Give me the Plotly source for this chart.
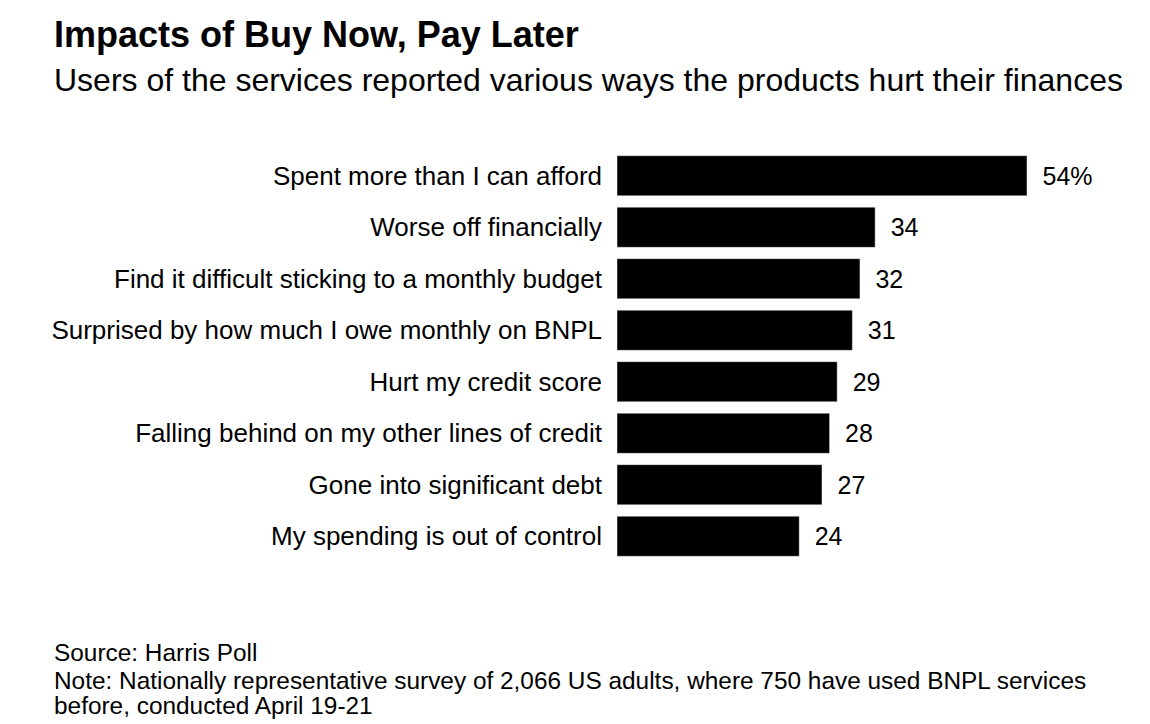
import plotly.graph_objects as go

categories = [
    "Spent more than I can afford",
    "Worse off financially",
    "Find it difficult sticking to a monthly budget",
    "Surprised by how much I owe monthly on BNPL",
    "Hurt my credit score",
    "Falling behind on my other lines of credit",
    "Gone into significant debt",
    "My spending is out of control",
]
values = [54, 34, 32, 31, 29, 28, 27, 24]
value_labels = ["54%", "34", "32", "31", "29", "28", "27", "24"]

font = "Liberation Sans, Arial, sans-serif"

# plot area in layout pixels
L, T, B = 609, 142.3, 170.3
W = 1150 - L
H = 724 - T - B


def px_x(x):
    return (x - L) / W


def px_y(y):
    return (724 - B - y) / H


fig = go.Figure()
fig.add_trace(go.Bar(
    x=values, y=categories,
    orientation="h",
    marker_color="black",
    text=["\u2002" + t for t in value_labels],
    textposition="outside",
    textfont=dict(size=25, color="black", family=font),
    cliponaxis=False,
    hoverinfo="skip",
))

fig.update_layout(
    width=1150, height=724,
    margin=dict(l=L, r=0, t=T, b=B),
    paper_bgcolor="white", plot_bgcolor="white",
    font=dict(family=font, color="black"),
    bargap=0.22,
    showlegend=False,
    xaxis=dict(range=[0, W / (410 / 54)], visible=False),
    yaxis=dict(autorange="reversed", showgrid=False, zeroline=False,
               showline=False, ticks="", ticklabelstandoff=14,
               tickfont=dict(size=26, family=font, color="black")),
)

texts = [
    ("<b>Impacts of Buy Now, Pay Later</b>", 27, 36),
    ("Users of the services reported various ways the products hurt their finances", 72, 32),
    ("Source: Harris Poll", 644, 24.4),
    ("Note: Nationally representative survey of 2,066 US adults, where 750 have used BNPL services", 672, 24.4),
    ("before, conducted April 19-21", 697, 24.4),
]
for t, y, s in texts:
    fig.add_annotation(text=t, xref="paper", yref="paper", x=px_x(44), y=px_y(y),
                       xanchor="left", yanchor="middle", showarrow=False,
                       font=dict(size=s, family=font))

fig.write_html("out.html")
